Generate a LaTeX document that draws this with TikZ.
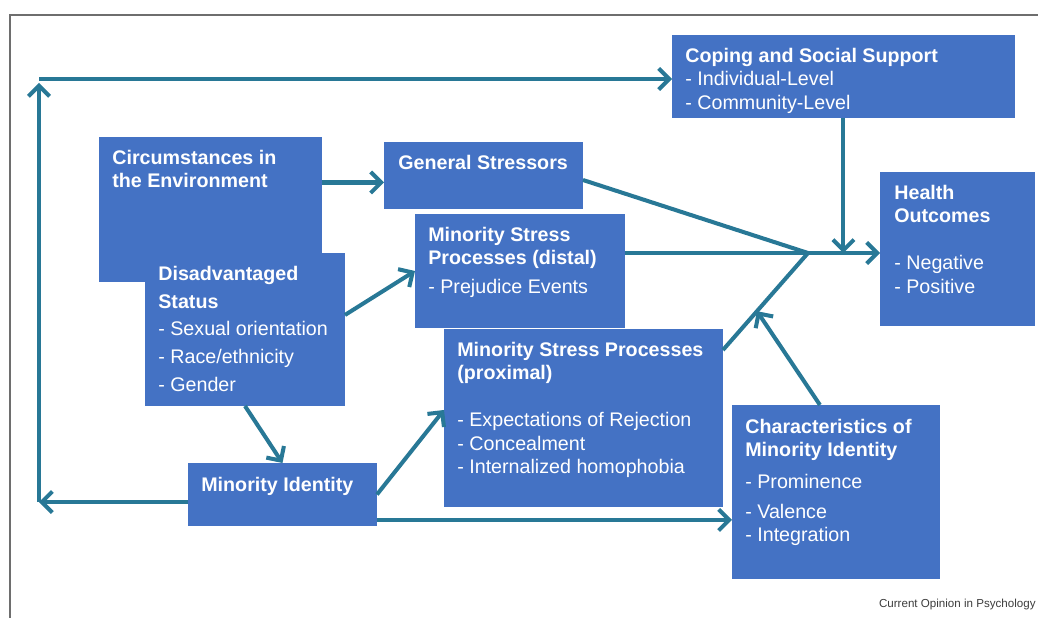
\documentclass[tikz,border=0pt]{standalone}
\usepackage{fontspec}
\setmainfont{Liberation Sans}
\usepackage{tikz}
\usetikzlibrary{arrows.meta, positioning, calc}
\definecolor{mBlue}{RGB}{68,114,196}
\definecolor{mTeal}{RGB}{40,120,150}
\definecolor{mGray}{RGB}{110,110,110}
\definecolor{mText}{RGB}{60,60,60}

\begin{document}
\begin{tikzpicture}[
  x=0.02cm, y=-0.02cm,
  box/.style={fill=mBlue, anchor=north west, inner sep=0pt, outer sep=0pt},
  txt/.style={text=white, align=left, inner sep=0pt, font=\fontsize{11.2}{13.4}\selectfont},
  link/.style={line width=2.3pt, mTeal},
  arrow/.style={-{Straight Barb[length=6pt, width=12pt]}, link}
]
  \useasboundingbox (0,0) rectangle (1038,618);
  \draw[mGray, line width=0.8pt] (1038,15) -- (10,15) -- (10,618);

  \node[box, minimum width=6.86cm, minimum height=1.66cm] (coping) at (672,35) {};
  \node[txt, below right=0.25cm and 0.26cm of coping.north west] (copingT) {\textbf{Coping and Social Support}\\- Individual-Level\\- Community-Level};
  \node[box, minimum width=4.46cm, minimum height=2.9cm] (circ) at (99,137) {};
  \node[txt, below right=0.25cm and 0.26cm of circ.north west] (circT) {\textbf{Circumstances in}\\\textbf{the Environment}};
  \node[box, minimum width=3.98cm, minimum height=1.34cm] (gen) at (384,142) {};
  \node[txt, below right=0.25cm and 0.28cm of gen.north west] (genT) {\textbf{General Stressors}};
  \node[box, minimum width=3.1cm, minimum height=3.08cm] (health) at (880,172) {};
  \node[txt, below right=0.25cm and 0.28cm of health.north west] (healthT) {\textbf{Health}\\\textbf{Outcomes}\\[13.4pt]- Negative\\- Positive};
  \node[box, minimum width=4.2cm, minimum height=2.28cm] (distal) at (415,214) {};
  \node[txt, below right=0.25cm and 0.26cm of distal.north west] (distalT) {\textbf{Minority Stress}\\\textbf{Processes (distal)}\\[3.1pt]- Prejudice Events};
  \node[box, minimum width=4.0cm, minimum height=3.06cm] (disadv) at (145,253) {};
  \node[txt, below right=0.25cm and 0.26cm of disadv.north west, font=\fontsize{11.2}{15.9}\selectfont] (disadvT) {\textbf{Disadvantaged}\\\textbf{Status}\\- Sexual orientation\\- Race/ethnicity\\- Gender};
  \node[box, minimum width=5.58cm, minimum height=3.56cm] (prox) at (444,329) {};
  \node[txt, below right=0.25cm and 0.26cm of prox.north west] (proxT) {\textbf{Minority Stress Processes}\\\textbf{(proximal)}\\[13.4pt]- Expectations of Rejection\\- Concealment\\- Internalized homophobia};
  \node[box, minimum width=4.16cm, minimum height=3.48cm] (charac) at (732,405) {};
  \node[txt, below right=0.27cm and 0.26cm of charac.north west] (characT) {\textbf{Characteristics of}\\\textbf{Minority Identity}\\[4.5pt]- Prominence\\[3.7pt]- Valence\\- Integration};
  \node[box, minimum width=3.78cm, minimum height=1.26cm] (minid) at (188,463) {};
  \node[txt, below right=0.27cm and 0.26cm of minid.north west] (minidT) {\textbf{Minority Identity}};
  \node[anchor=base east, inner sep=0pt, text=mText, font=\fontsize{6.6}{7.5}\selectfont] (cap) at (1036,607) {Current Opinion in Psychology};

  \coordinate (merge) at (808,253);
  \coordinate (loopB) at (39,502);
  \coordinate (loopT) at (39,79);
  \coordinate (proxOut) at ([yshift=-0.42cm]prox.north east);

  \draw[arrow] (minid.west |- loopB) -- (loopB);
  \draw[arrow] (loopB) -- ([yshift=-0.08cm]loopT);
  \draw[arrow] (loopT) -- (loopT -| coping.west);
  \draw[arrow] ([yshift=-0.14cm]gen.west -| circ.east) -- ([yshift=-0.14cm]gen.west);
  \draw[arrow] ([yshift=0.29cm]disadv.east) -- (distal.west);
  \draw[arrow] (disadv.south) -- (minid.north);
  \draw[arrow] (minid.east) -- ([yshift=0.16cm]prox.west);
  \draw[arrow] ([yshift=0.12cm]minid.south east) -- ([yshift=0.12cm]minid.south east -| charac.west);
  \draw[link] ([yshift=-0.09cm]gen.east) -- (merge) -- (proxOut);
  \draw[arrow] (distal.east |- merge) -- (merge -| health.west);
  \draw[arrow] (coping.south) -- (coping.south |- merge);
  \draw[arrow] ([xshift=-0.32cm]charac.north) -- ($(proxOut)!0.4!(merge)$);
\end{tikzpicture}
\end{document}
